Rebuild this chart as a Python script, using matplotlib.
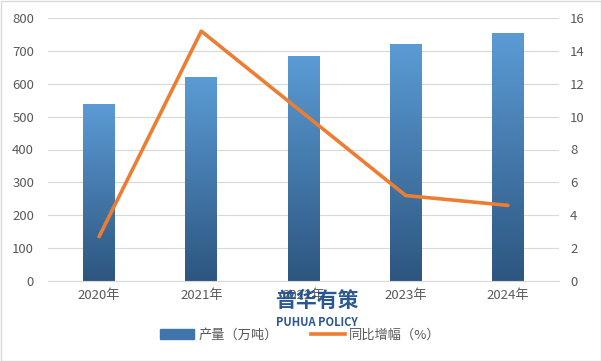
import numpy as np
import matplotlib
matplotlib.use("Agg")
import matplotlib.pyplot as plt
from matplotlib.colors import LinearSegmentedColormap
from matplotlib.lines import Line2D
from matplotlib.patches import Rectangle

plt.rcParams['font.family'] = ['Noto Sans CJK SC', 'DejaVu Sans']

years = ['2020年', '2021年', '2022年', '2023年', '2024年']
output = [538, 620, 684, 720, 754]          # 产量（万吨）
growth = [2.7, 15.2, 10.2, 5.2, 4.6]         # 同比增幅（%）

fig = plt.figure(figsize=(6.01, 3.61), dpi=100)
ax = fig.add_axes([48/601, 80/361, 511/601, 263/361])
ax2 = ax.twinx()

x = np.arange(len(years))
width = 0.31
bars = ax.bar(x, output, width, color='none', edgecolor='none', zorder=2)

# gradient fill for every bar
cmap = LinearSegmentedColormap.from_list('bl', ['#2d5680', '#5b9bd5'])
grad = np.linspace(0, 1, 256).reshape(-1, 1)
for b in bars:
    x0, y0 = b.get_x(), b.get_y()
    w, h = b.get_width(), b.get_height()
    im = ax.imshow(grad, extent=[x0, x0 + w, y0, y0 + h], origin='lower',
                   cmap=cmap, aspect='auto', zorder=2)
    im.set_clip_path(b)

ax.set_xlim(-0.5, len(years) - 0.5)
ax.set_ylim(0, 800)
ax.set_yticks(np.arange(0, 801, 100))
ax.set_xticks(x)
ax.set_xticklabels(years)
ax.grid(axis='y', color='#d9d9d9', linewidth=0.8, zorder=0)
ax.set_axisbelow(True)

ax2.plot(x, growth, color='#ed7d31', linewidth=2.6, zorder=3, solid_capstyle='round')
ax2.set_ylim(0, 16)
ax2.set_yticks(np.arange(0, 17, 2))

for a in (ax, ax2):
    for s in a.spines.values():
        s.set_visible(False)
    a.tick_params(length=0, labelsize=9.5, colors='#595959')
ax.tick_params(axis='y', pad=10)
ax.tick_params(axis='x', pad=6)
ax2.tick_params(axis='y', pad=8)
ax.spines['bottom'].set_visible(True)
ax.spines['bottom'].set_color('#d9d9d9')

# legend
handles = [Rectangle((0, 0), 1, 1, color='#3f75aa'),
           Line2D([0], [0], color='#ed7d31', linewidth=2.6)]
fig.legend(handles, ['产量（万吨）', '同比增幅（%）'], loc='center',
           bbox_to_anchor=(0.5, 1 - 335/361), ncol=2, frameon=False,
           fontsize=9.5, labelcolor='#595959', handlelength=2.6,
           columnspacing=2.5, handletextpad=0.3)

# watermark
fig.text(317/601, 1 - 300/361, '普华有策', ha='center', va='center',
         fontsize=15, fontweight='bold', color='#1f4e8c', alpha=0.95)
fig.text(317/601, 1 - 323/361, 'PUHUA POLICY', ha='center', va='center',
         fontsize=8, fontweight='bold', color='#1f4e8c', alpha=0.95)

fig.patches.append(Rectangle((0.5/601, 0.5/361), 1 - 1/601, 1 - 1/361,
                             transform=fig.transFigure, fill=False,
                             edgecolor='#d9d9d9', linewidth=1))

fig.savefig('out.png', dpi=100)
